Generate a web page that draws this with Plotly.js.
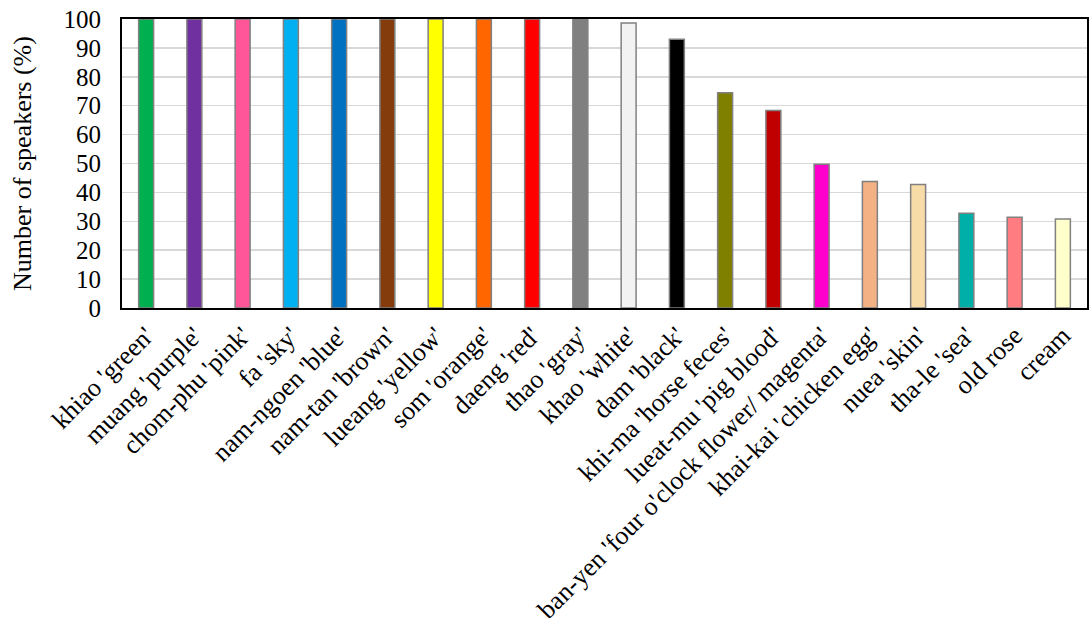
<!DOCTYPE html>
<html>
<head>
<meta charset="utf-8">
<script src="https://cdn.plot.ly/plotly-3.0.1.min.js"></script>
<style>html,body{margin:0;padding:0;background:#fff;}#chart{width:1089px;height:633px;}</style>
</head>
<body>
<div id="chart"></div>
<script>
const categories = ["khiao 'green'", "muang 'purple'", "chom-phu 'pink'", "fa 'sky'", "nam-ngoen 'blue'", "nam-tan 'brown'", "lueang 'yellow'", "som 'orange'", "daeng 'red'", "thao 'gray'", "khao 'white'", "dam 'black'", "khi-ma 'horse feces'", "lueat-mu 'pig blood'", "ban-yen 'four o'clock flower/ magenta'", "khai-kai 'chicken egg'", "nuea 'skin'", "tha-le 'sea'", "old rose", "cream"];
const values = [100, 100, 100, 100, 100, 100, 100, 100, 100, 100, 98.6, 93.0, 74.5, 68.3, 49.7, 43.8, 42.7, 32.8, 31.4, 30.8];
const barColors = ["#00B050", "#7030A0", "#FF5599", "#00B0F0", "#0070C0", "#843C0C", "#FFFF00", "#FF6600", "#FF0000", "#808080", "#F2F2F2", "#000000", "#808000", "#C00000", "#FF00CC", "#F4B183", "#F8DCA8", "#00B0A8", "#FF7C80", "#FFFFCC"];
const yTicks = [0, 10, 20, 30, 40, 50, 60, 70, 80, 90, 100];

const font = "'Liberation Serif', 'Times New Roman', serif";
Plotly.newPlot("chart", [{
  type: "bar",
  x: categories,
  y: values,
  marker: {color: barColors, line: {color: "#808080", width: 1.5}},
  width: 0.31,
  hoverinfo: "x+y"
}], {
  width: 1089, height: 633,
  margin: {l: 122, r: 2, t: 19, b: 325},
  paper_bgcolor: "#fff", plot_bgcolor: "#fff",
  showlegend: false,
  font: {family: font, color: "#000"},
  xaxis: {
    type: "category", tickangle: -45, tickfont: {family: font, size: 26, color: "#000"},
    showline: true, linecolor: "#000", linewidth: 2, mirror: true, ticks: "", showgrid: false
  },
  yaxis: {
    range: [0, 100], tickvals: yTicks, ticks: "", tickfont: {family: font, size: 25, color: "#000"},
    ticklabelstandoff: 14,
    showgrid: true, gridcolor: "#D9D9D9", gridwidth: 1.5,
    showline: true, linecolor: "#000", linewidth: 2, mirror: true, zeroline: false,
    title: {text: "Number of speakers (%)", font: {family: font, size: 26, color: "#000"}, standoff: 24}
  }
}, {displayModeBar: false, staticPlot: true});
</script>
</body>
</html>
